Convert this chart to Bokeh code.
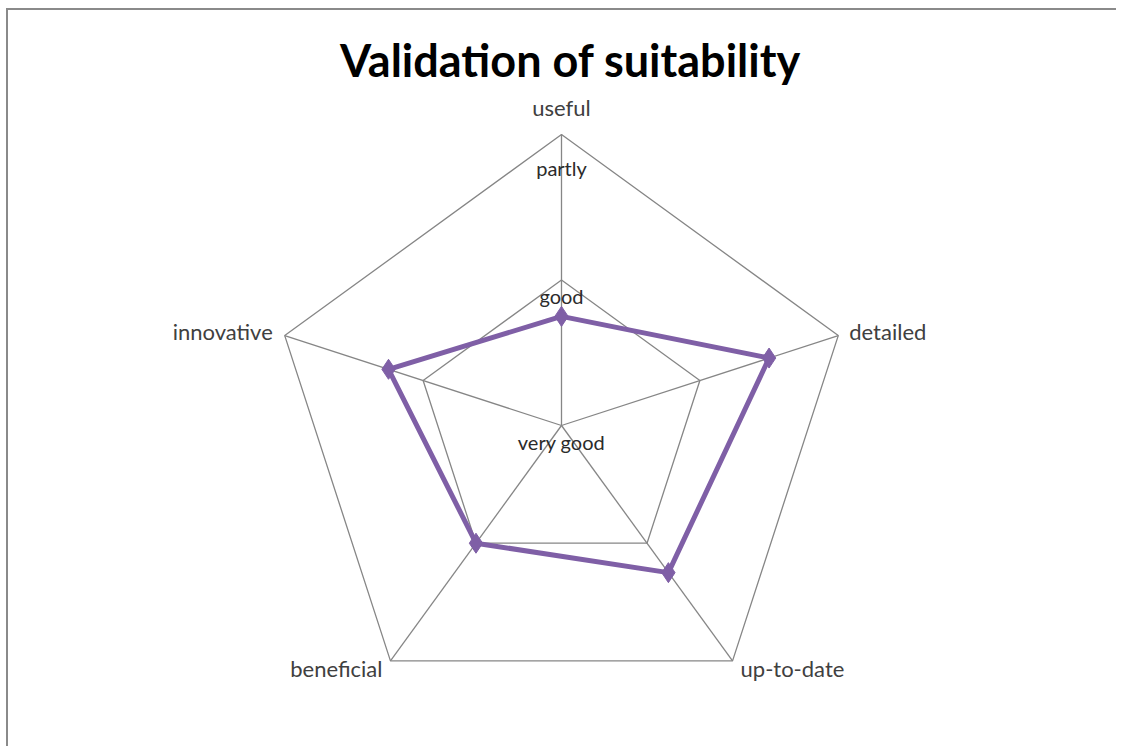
import math
from bokeh.plotting import figure
from bokeh.models import Range1d, ColumnDataSource
from bokeh.core.properties import value
from bokeh.embed import file_html
from bokeh.resources import INLINE

# ---- data ----
title_text = "Validation of suitability"
categories = ["useful", "detailed", "up-to-date", "beneficial", "innovative"]
values = [1.75, 2.5, 2.25, 2.0, 2.25]
tick_values = [1, 2, 3]
tick_labels = ["very good", "good", "partly"]

# ---- geometry / style ----
R = 291.0          # pixel radius of outer ring
vmin, vmax = 1.0, 3.0
n = len(categories)
angles = [math.pi / 2 - 2 * math.pi * i / n for i in range(n)]

def rad(v):
    return (v - vmin) / (vmax - vmin) * R

W, H = 1110, 738
p = figure(width=W, height=H, output_backend="svg", toolbar_location=None,
           x_range=Range1d(-553, W - 553), y_range=Range1d(415 - H, 415),
           min_border=0, outline_line_color=None)
p.axis.visible = False
p.grid.visible = False
p.styles = {"border-top": "2px solid #8a8a8a", "border-left": "2px solid #8a8a8a",
            "margin-left": "6px", "margin-top": "8px"}

grid_col = "#868686"
# rings
for tv in tick_values[1:]:
    r = rad(tv)
    xs = [r * math.cos(a) for a in angles] + [r * math.cos(angles[0])]
    ys = [r * math.sin(a) for a in angles] + [r * math.sin(angles[0])]
    p.line(xs, ys, line_color=grid_col, line_width=1.3)
# spokes
for a in angles:
    p.line([0, R * math.cos(a)], [0, R * math.sin(a)], line_color=grid_col, line_width=1.3)

# tick labels on the first axis
tick_yoff = [-16, -16, -33]
for tv, tl, yo in zip(tick_values, tick_labels, tick_yoff):
    p.text([0], [rad(tv) + yo], text=[tl], text_align="center", text_baseline="middle",
           text_font=value("Lato"), text_font_size="20px", text_color="#2b2b2b")

# category labels
lab_off = [(0, 27, "center"), (11, 4, "left"), (8, -8, "left"), (-8, -8, "right"), (-12, 4, "right")]
for c, a, (xo, yo, al) in zip(categories, angles, lab_off):
    p.text([R * math.cos(a) + xo], [R * math.sin(a) + yo], text=[c], text_align=al,
           text_baseline="middle", text_font=value("Lato"), text_font_size="22px",
           text_color="#404040")

# series
xs = [rad(v) * math.cos(a) for v, a in zip(values, angles)]
ys = [rad(v) * math.sin(a) for v, a in zip(values, angles)]
src = ColumnDataSource(dict(x=xs, y=ys))
p.line(xs + [xs[0]], ys + [ys[0]], line_color="#7F5FA6", line_width=5, line_join="round")
p.scatter("x", "y", source=src, marker="diamond", size=20, fill_color="#7F5FA6",
          line_color="#7F5FA6")

# title
p.text([9], [366], text=[title_text], text_align="center", text_baseline="middle",
       text_font=value("Lato"), text_font_style="bold", text_font_size="45px",
       text_color="#000000")

open("out.html", "w").write(file_html(p, INLINE))
